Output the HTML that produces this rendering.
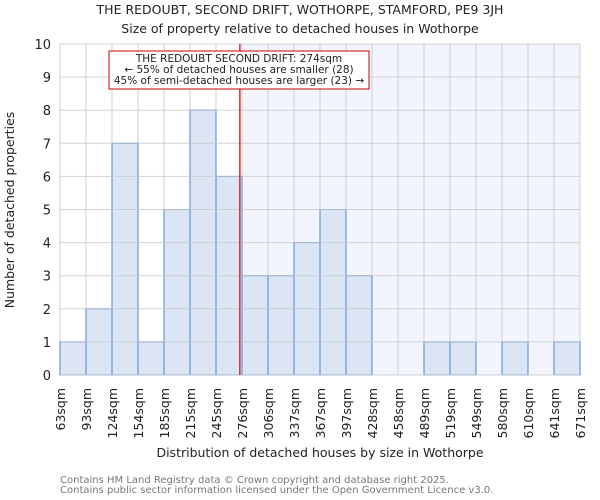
<!DOCTYPE html>
<html><head><meta charset="utf-8"><style>body{margin:0;background:#fff}svg{display:block;font-family:"DejaVu Sans","Liberation Sans",sans-serif}</style></head>
<body>
<svg id="chart" width="600" height="500" xmlns="http://www.w3.org/2000/svg">
<text x="300" y="14" text-anchor="middle" font-size="12.5" fill="#222">THE REDOUBT, SECOND DRIFT, WOTHORPE, STAMFORD, PE9 3JH</text>
<text x="300" y="33" text-anchor="middle" font-size="12.5" fill="#222">Size of property relative to detached houses in Wothorpe</text>
<g id="plot"></g>
<text x="320" y="457" text-anchor="middle" font-size="12.5" fill="#222">Distribution of detached houses by size in Wothorpe</text>
<text transform="translate(14,210) rotate(-90)" text-anchor="middle" font-size="12.5" fill="#222">Number of detached properties</text>
<text x="60" y="483" font-size="10" fill="#777">Contains HM Land Registry data © Crown copyright and database right 2025.</text>
<text x="60" y="493" font-size="10" fill="#777">Contains public sector information licensed under the Open Government Licence v3.0.</text>
</svg>
<script>
const categories=["63sqm","93sqm","124sqm","154sqm","185sqm","215sqm","245sqm","276sqm","306sqm","337sqm","367sqm","397sqm","428sqm","458sqm","489sqm","519sqm","549sqm","580sqm","610sqm","641sqm","671sqm"];
const counts=[1,2,7,1,5,8,6,3,3,4,5,3,0,0,1,1,0,1,0,1];
const yTicks=[0,1,2,3,4,5,6,7,8,9,10];
const binStart=63, binWidth=30.5;
const propertySize=274;
const X0=60,X1=580,Y0=375,Y1=44;
const n=counts.length;
const xs=i=>X0+(X1-X0)*i/n;
const xv=v=>X0+(X1-X0)*(v-binStart)/(binWidth*n);
const ys=v=>Y0-(Y0-Y1)*v/10;
const g=document.getElementById('plot');
const NS="http://www.w3.org/2000/svg";
function mk(t,a){const e=document.createElementNS(NS,t);for(const k in a)e.setAttribute(k,a[k]);g.appendChild(e);return e;}
const sx=xv(propertySize);
const shade=mk('rect',{x:sx,y:Y1,width:X1-sx,height:Y0-Y1,fill:'#f2f5fd'});


for(let i=0;i<=n;i++){const l=mk('line',{x1:xs(i),x2:xs(i),y1:Y1,y2:Y0,stroke:'#d0d0d0','stroke-width':1});

}
counts.forEach((c,i)=>{if(c<=0)return;const r=mk('rect',{x:xs(i),y:ys(c),width:xs(i+1)-xs(i),height:Y0-ys(c),fill:'#dbe5f4',stroke:'#4a86d8','stroke-width':1});

});
yTicks.forEach(v=>{const l=mk('line',{x1:X0,x2:X1,y1:ys(v),y2:ys(v),stroke:'#c8c8c8','stroke-width':1,'stroke-opacity':0.8});


const t=mk('text',{x:X0-9,y:ys(v)+5,'text-anchor':'end','font-size':13,fill:'#222'});t.textContent=v;

});
categories.forEach((c,i)=>{const x=xs(i);const t=mk('text',{transform:`translate(${x+5},388) rotate(-90)`,'text-anchor':'end','font-size':12.5,fill:'#222'});t.textContent=c;

});
const m=mk('line',{x1:sx,x2:sx,y1:Y1,y2:Y0,stroke:'#cc0000','stroke-width':1.2});


const box=mk('rect',{x:109,y:51,width:260,height:38,fill:'#fff',stroke:'#cc0000','stroke-width':1});


["THE REDOUBT SECOND DRIFT: 274sqm","← 55% of detached houses are smaller (28)","45% of semi-detached houses are larger (23) →"].forEach((s,k)=>{const t=mk('text',{x:239,y:62+k*11,'text-anchor':'middle','font-size':10.5,fill:'#222'});t.textContent=s;

});
</script>
</body></html>
